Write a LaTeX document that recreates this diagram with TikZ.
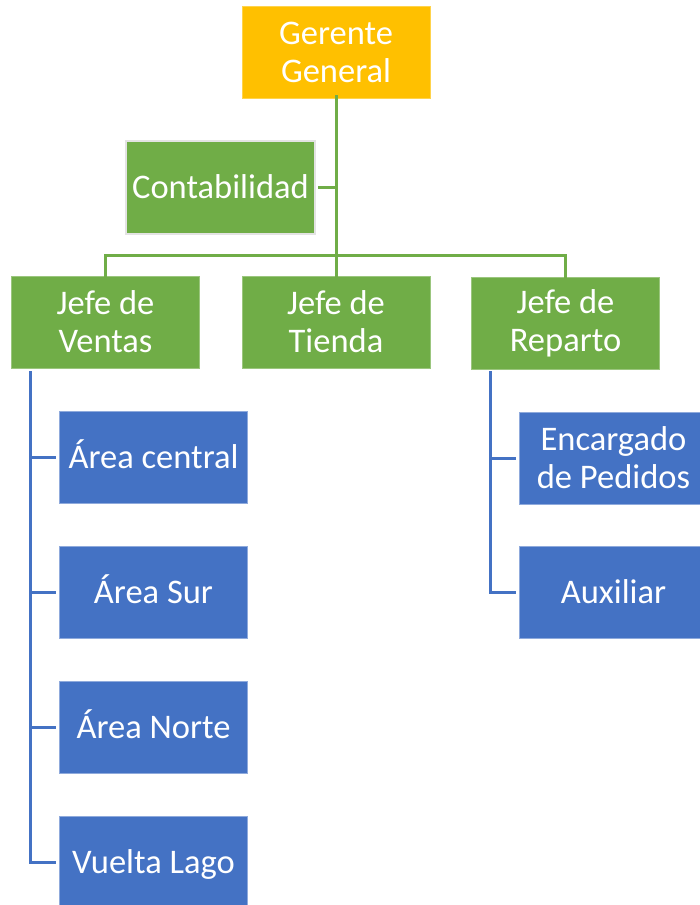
\documentclass[tikz,border=0pt]{standalone}
\usepackage{fontspec}
\setmainfont{Carlito}
\definecolor{gold}{HTML}{FFC000}
\definecolor{ggreen}{HTML}{70AD47}
\definecolor{bblue}{HTML}{4472C4}
\definecolor{lgrey}{HTML}{E3E3E3}
\begin{document}
\begin{tikzpicture}[x=1pt,y=-1pt,
  box/.style={minimum width=188pt,minimum height=92pt,inner sep=0pt,text=white,align=center,
    font=\fontsize{34.5}{38}\selectfont},
  oneline/.style={execute at begin node={\rule{0pt}{30pt}},
    execute at end node={\rule[-8pt]{0pt}{8pt}}},
  goldbox/.style={box,fill=gold,draw=gold!70!white,line width=0.6pt},
  greenbox/.style={box,fill=ggreen,draw=ggreen!70!white,line width=0.6pt},
  bluebox/.style={box,fill=bblue,draw=bblue!60!white,line width=0.6pt},
  gline/.style={draw=ggreen,line width=3pt},
  bline/.style={draw=bblue,line width=3pt}]
\useasboundingbox (0,0) rectangle (699,905);
\node[goldbox] (gg) at (336,52) {Gerente\\General};
\node[greenbox,oneline,draw=lgrey,line width=2pt,minimum width=189pt,minimum height=93pt] (ct) at (220.5,187.5) {Contabilidad};
\node[greenbox] (jv) at (105.5,322) {Jefe de\\Ventas};
\node[greenbox] (jt) at (336,322) {Jefe de\\Tienda};
\node[greenbox] (jr) at (565.5,323) {Jefe de\\Reparto};
\node[bluebox,oneline] (ac) at (153.5,457) {Área central};
\node[bluebox,oneline] (as) at (153.5,592) {Área Sur};
\node[bluebox,oneline] (an) at (153.5,727) {Área Norte};
\node[bluebox,oneline] (vl) at (153.5,862) {Vuelta Lago};
\node[bluebox] (ep) at (613.5,458) {Encargado\\de Pedidos};
\node[bluebox,oneline] (au) at (613.5,592) {Auxiliar};
\coordinate (bus) at (336,255);
\coordinate (vtop) at (30,371);
\coordinate (rtop) at (490,371);
% green connectors
\draw[gline] ([yshift=3pt]gg.south) -- ([yshift=-3pt]jt.north);
\draw[gline] ([xshift=2pt]ct.east) -- (ct.east -| gg.south);
\draw[gline] ([yshift=-3pt]jv.north) |- (bus) -| ([yshift=-3pt]jr.north);
% blue connectors
\draw[bline] (vtop) |- ([xshift=-3pt]vl.west);
\foreach \n in {ac,as,an} \draw[bline] (\n.west -| vtop) -- ([xshift=-3pt]\n.west);
\draw[bline] (rtop) |- ([xshift=-3pt]au.west);
\draw[bline] (ep.west -| rtop) -- ([xshift=-3pt]ep.west);
\end{tikzpicture}
\end{document}
